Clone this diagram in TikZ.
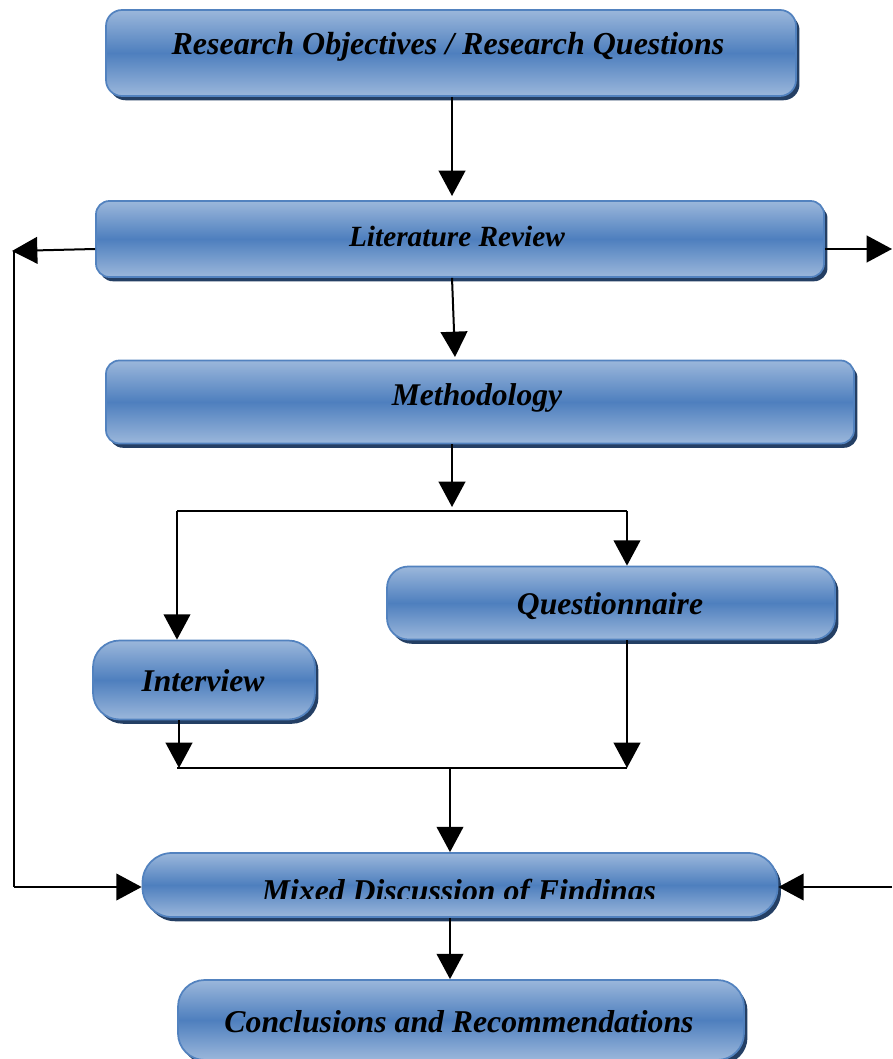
\documentclass[tikz,border=0pt]{standalone}
\usepackage{fontspec}
\setmainfont{Liberation Serif}
\usetikzlibrary{arrows.meta,shadows}
\definecolor{boxlight}{HTML}{9BB7DB}
\definecolor{boxmid}{HTML}{4E7FBE}
\definecolor{boxedge}{HTML}{5282BF}
\definecolor{boxshadow}{HTML}{243F64}
\tikzset{
  flowbox/.style={rounded corners=#1, draw=boxedge, line width=1.3pt,
    top color=boxlight, bottom color=boxlight, middle color=boxmid,
    general shadow={fill=boxshadow, shadow xshift=2.6pt, shadow yshift=-3.2pt},
    text=black, inner sep=0pt},
  flowbox/.default=11pt,
  lbl/.style={font=\fontsize{#1}{26}\selectfont\bfseries\itshape, inner sep=0pt},
  conn/.style={line width=1.5pt, draw=black},
  arr/.style={conn, -{Triangle[length=19pt,width=20pt]}},
}
\begin{document}
\begin{tikzpicture}[x=0.75pt,y=-0.75pt]
\useasboundingbox (0,0) rectangle (892,1059);
% boxes
\node[flowbox=12pt, minimum width=690*0.75pt, minimum height=86*0.75pt] (ro) at (451,53) {};
\node[lbl=24] (rot) at (448,47) {Research Objectives / Research Questions};
\node[flowbox=10pt, minimum width=728*0.75pt, minimum height=76*0.75pt] (lr) at (460,239) {};
\node[lbl=22] (lrt) at (457,236) {Literature Review};
\node[flowbox=10pt, minimum width=748*0.75pt, minimum height=83*0.75pt] (me) at (480,402) {};
\node[lbl=23.7] (met) at (477,398) {Methodology};
\node[flowbox=16pt, minimum width=448*0.75pt, minimum height=73*0.75pt] (qu) at (611,603) {};
\node[lbl=23.7] (qut) at (610,606) {Questionnaire};
\node[flowbox=20pt, minimum width=222*0.75pt, minimum height=79*0.75pt] (in) at (204,680) {};
\node[lbl=23.7] (intt) at (203,681) {Interview};
\node[flowbox=22pt, minimum width=635*0.75pt, minimum height=64*0.75pt] (mx) at (460,885) {};
\begin{scope}
\clip (140,853) rectangle (780,898);
\node[lbl=23.8] (mxt) at (459,894) {Mixed Discussion of Findings};
\end{scope}
\node[flowbox=20pt, minimum width=566*0.75pt, minimum height=80*0.75pt] (co) at (461,1020) {};
\node[lbl=23.8] (cot) at (459,1022) {Conclusions and Recommendations};
% coordinates
\coordinate (x452) at (452,0);
\coordinate (x450) at (450,0);
\coordinate (x177) at (177,0);
\coordinate (x179) at (179,0);
\coordinate (x627) at (627,0);
\coordinate (y249) at (0,249);
\coordinate (y887) at (0,887);
\coordinate (lrL) at (12,251);
\coordinate (lrR) at (892,249);
\coordinate (mxR) at (892,887);
\coordinate (c1) at (14,251);
\coordinate (c2) at (14,887);
\coordinate (s0) at (452,507);
\coordinate (sL) at (177,511);
\coordinate (sR) at (627,511);
\coordinate (jL) at (177,768);
\coordinate (jR) at (627,768);
\coordinate (jM) at (450,768);
\coordinate (jI) at (179,768);
\coordinate (a1) at (452,196);
\coordinate (a2) at (455,357);
% connectors
\draw[arr] (ro.south -| x452) -- (a1);
\draw[arr] (lr.south -| x452) -- (a2);
\draw[arr] (lr.west |- y249) -- (lrL);
\draw[arr] (lr.east |- y249) -- (lrR);
\draw[conn] (c1) -- (c2);
\draw[arr] (c2) -- (mx.west |- y887);
\draw[arr] (mxR) -- (mx.east |- y887);
\draw[arr] (me.south -| x452) -- (s0);
\draw[conn] (sL) -- (sR);
\draw[arr] (sL) -- (in.north -| x177);
\draw[arr] (sR) -- (qu.north -| x627);
\draw[arr] (in.south -| x179) -- (jI);
\draw[arr] (qu.south -| x627) -- (jR);
\draw[conn] (jL) -- (jR);
\draw[arr] (jM) -- (mx.north -| x450);
\draw[arr] (mx.south -| x450) -- (co.north -| x450);
\end{tikzpicture}
\end{document}
